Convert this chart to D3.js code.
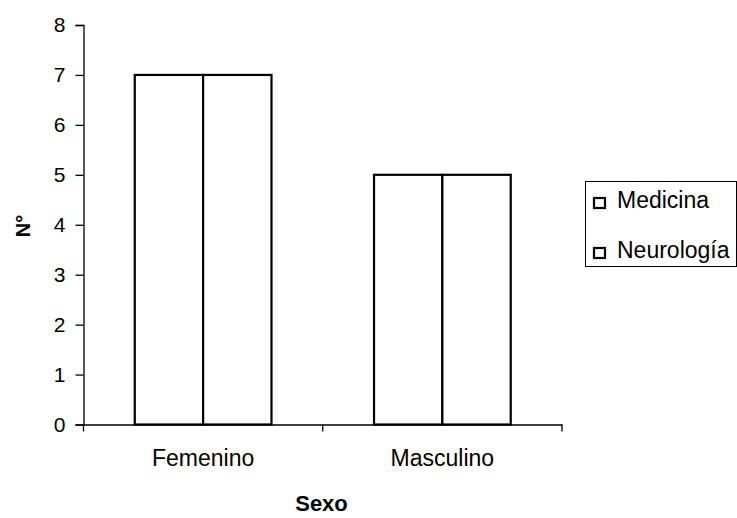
<!DOCTYPE html>
<html><head><meta charset="utf-8">
<script src="https://cdn.jsdelivr.net/npm/d3@7"></script>
<style>body{margin:0;background:#fff}svg{display:block}text{font-family:"Liberation Sans",Arial,sans-serif;fill:#000}</style>
</head><body>
<svg id="c" width="737" height="518"></svg>
<script>
const categories = ["Femenino", "Masculino"];
const seriesNames = ["Medicina", "Neurología"];
const medicina = [7, 5];
const neurologia = [7, 5];
const yTicks = [0, 1, 2, 3, 4, 5, 6, 7, 8];

const data = categories.map((c, i) => ({cat: c, values: [medicina[i], neurologia[i]]}));
const svg = d3.select("#c");
const mLeft = 83.5, mRight = 562, mTop = 25, mBottom = 424.5;
const FONT = "Liberation Sans, Arial, sans-serif";

const x = d3.scaleBand().domain(categories).range([mLeft, mRight]).paddingInner(0).paddingOuter(0);
const x1 = d3.scaleBand().domain(seriesNames).range([0, x.bandwidth()]).paddingInner(0).paddingOuter(0.75);
const y = d3.scaleLinear().domain([0, 8]).range([mBottom, mTop]);

// bars
const g = svg.append("g");
data.forEach(d => {
  g.selectAll(null).data(d.values).enter().append("rect")
    .attr("x", (v, j) => x(d.cat) + x1(seriesNames[j]))
    .attr("y", v => y(v))
    .attr("width", x1.bandwidth())
    .attr("height", v => y(0) - y(v))
    .attr("fill", "#fff").attr("stroke", "#000").attr("stroke-width", 2.2);
});

// y axis
const ya = svg.append("g").attr("transform", `translate(${mLeft},0)`)
  .call(d3.axisLeft(y).tickValues(yTicks).tickSize(8).tickPadding(10).tickFormat(d3.format("d")));
ya.select(".domain").attr("stroke", "#000").attr("stroke-width", 1.3);
ya.selectAll(".tick line").attr("stroke", "#000").attr("stroke-width", 1.3);
ya.selectAll(".tick text").attr("font-size", 21).attr("font-family", FONT);

// x axis
const xa = svg.append("g").attr("transform", `translate(0,${mBottom})`)
  .call(d3.axisBottom(x).tickSize(0).tickPadding(25).tickSizeOuter(0));
xa.select(".domain").attr("stroke", "#000").attr("stroke-width", 1.3);
xa.selectAll(".tick text").attr("font-size", 23).attr("font-family", FONT);
// category boundary ticks
const bounds = [mLeft, x(categories[1]), mRight];
xa.selectAll(".bt").data(bounds).enter().append("line")
  .attr("x1", d => d).attr("x2", d => d).attr("y1", 0).attr("y2", 7)
  .attr("stroke", "#000").attr("stroke-width", 1.3);

// axis titles
svg.append("text").attr("x", 321.5).attr("y", 511)
  .attr("text-anchor", "middle").attr("font-size", 22).attr("font-weight", "bold").text("Sexo");
svg.append("text").attr("transform", `translate(30,226) rotate(-90)`)
  .attr("text-anchor", "middle").attr("font-size", 20).attr("font-weight", "bold").text("N°");

// legend
const lg = svg.append("g");
lg.append("rect").attr("x", 585.5).attr("y", 181.5).attr("width", 151).attr("height", 85)
  .attr("fill", "#fff").attr("stroke", "#000").attr("stroke-width", 1);
seriesNames.forEach((s, i) => {
  const yy = 208 + i * 50;
  lg.append("rect").attr("x", 594).attr("y", yy - 10).attr("width", 11).attr("height", 10)
    .attr("fill", "#fff").attr("stroke", "#000").attr("stroke-width", 2.2);
  lg.append("text").attr("x", 617).attr("y", yy).attr("font-size", 23).text(s);
});
</script>
</body></html>
